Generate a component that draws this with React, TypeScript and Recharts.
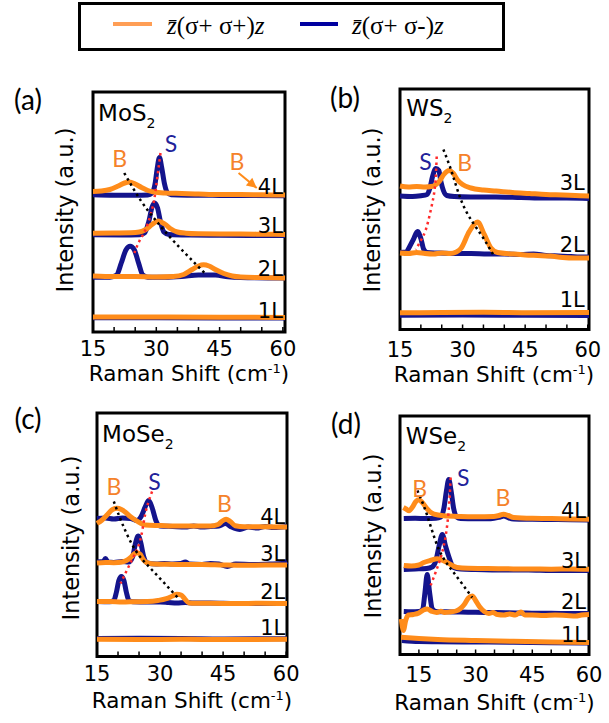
import React from "react"
import { LineChart, Line, XAxis, YAxis, ReferenceArea, ReferenceDot } from "recharts"

type Pt = [number, number]

const ORANGE = "#FF8C1A"
const BLUE = "#14148C"
const RED = "#FF2A2A"
const SANS = "DejaVu Sans"

const ticks5 = [15, 20, 25, 30, 35, 40, 45, 50, 55, 60]
const tickLabels = [15, 30, 45, 60]

// (a) MoS2 — co = σ+σ+ (orange), cross = σ+σ- (blue)
const mos2_4L_co: Pt[] = [[15, 14.05], [17, 14.1], [19, 14.25], [21, 14.6], [22.5, 14.9], [23.6, 15.0], [25, 14.8], [26.5, 14.45], [28, 14.15], [29.5, 14.0], [32, 13.9], [36, 13.85], [40, 13.8], [45, 13.75], [50, 13.75], [55, 13.72], [60.5, 13.7]]
const mos2_4L_cross: Pt[] = [[15, 13.72], [20, 13.68], [25, 13.68], [28, 13.7], [29, 13.9], [29.7, 14.8], [30.2, 16.3], [30.75, 17.45], [31.3, 16.4], [31.9, 14.9], [32.6, 13.95], [33.5, 13.72], [38, 13.68], [45, 13.66], [52, 13.65], [60.5, 13.62]]
const mos2_3L_co: Pt[] = [[15, 9.88], [20, 9.9], [24, 9.92], [26, 10.0], [27.5, 10.25], [29, 10.75], [30.4, 11.1], [32, 10.8], [33.5, 10.3], [35, 10.0], [37, 9.88], [40, 9.82], [45, 9.8], [50, 9.8], [55, 9.78], [60.5, 9.75]]
const mos2_3L_cross: Pt[] = [[15, 9.72], [22, 9.7], [26, 9.72], [27.2, 9.9], [28.2, 11.0], [29.0, 12.5], [29.6, 12.9], [30.3, 12.4], [31.0, 11.0], [31.8, 10.0], [33, 9.75], [38, 9.7], [45, 9.68], [52, 9.66], [60.5, 9.65]]
const mos2_2L_co: Pt[] = [[15, 5.6], [20, 5.55], [25, 5.55], [30, 5.5], [34, 5.55], [36.5, 5.75], [38.5, 6.25], [40, 6.6], [41.2, 6.72], [42.5, 6.6], [44, 6.25], [46, 5.85], [48, 5.6], [50, 5.5], [55, 5.45], [60.5, 5.4]]
const mos2_2L_cross: Pt[] = [[15, 5.48], [19, 5.48], [20.6, 5.7], [21.7, 6.9], [22.8, 8.2], [23.8, 8.57], [24.8, 8.2], [25.8, 6.9], [26.8, 5.7], [28, 5.48], [32, 5.48], [36, 5.55], [40, 5.7], [44, 5.7], [47, 5.52], [50, 5.45], [60.5, 5.4]]
const mos2_1L_co: Pt[] = [[15, 1.5], [30, 1.5], [45, 1.48], [60.5, 1.46]]
const mos2_1L_cross: Pt[] = [[15, 1.43], [30, 1.42], [45, 1.41], [60.5, 1.4]]
const mos2_S: Pt[] = [[31.0, 17.9], [30.0, 14.7], [29.2, 12.6], [27.6, 10.4], [26.0, 9.1], [24.8, 7.9]]
const mos2_B: Pt[] = [[22.4, 15.9], [26.4, 13.1], [30.0, 11.1], [34.3, 9.0], [41.9, 5.7]]
const mos2_arrow: Pt[] = [[49.5, 15.9], [53.8, 14.4]]

// (b) WS2
const ws2_3L_co: Pt[] = [[15, 14.35], [17, 14.25], [19, 14.3], [21, 14.25], [22.5, 14.3], [23.5, 14.45], [24.5, 14.85], [25.5, 15.5], [26.8, 15.9], [27.8, 15.6], [28.8, 14.95], [30, 14.5], [32, 14.15], [35, 13.95], [38, 13.85], [42, 13.7], [46, 13.6], [50, 13.5], [54, 13.45], [57, 13.4], [60.3, 13.35]]
const ws2_3L_cross: Pt[] = [[15, 13.35], [18, 13.3], [20, 13.38], [21.5, 13.5], [22.2, 14.2], [22.8, 15.3], [23.6, 16.1], [24.3, 15.9], [24.8, 14.8], [25.4, 13.9], [26.2, 13.4], [28, 13.3], [32, 13.25], [38, 13.25], [44, 13.2], [50, 13.15], [55, 13.15], [60.3, 13.1]]
const ws2_2L_co: Pt[] = [[15, 7.65], [17, 7.6], [19, 7.7], [21, 7.6], [23, 7.55], [25, 7.65], [27, 7.6], [28.5, 7.75], [29.6, 8.1], [31.6, 9.8], [33.6, 10.75], [35.2, 9.5], [36.8, 8.15], [38.4, 7.7], [42, 7.55], [45, 7.45], [48, 7.4], [51, 7.35], [54, 7.2], [57, 7.15], [60.3, 7.15]]
const ws2_2L_cross: Pt[] = [[15, 7.7], [16.5, 7.75], [17.2, 8.2], [18.2, 9.0], [19.2, 9.8], [20.0, 9.1], [20.7, 8.0], [21.5, 7.7], [24, 7.65], [28, 7.6], [32, 7.6], [36, 7.55], [40, 7.55], [44, 7.5], [47, 7.55], [50, 7.4], [53, 7.35], [56, 7.3], [58, 7.25], [60.3, 7.25]]
const ws2_1L_co: Pt[] = [[15, 1.67], [25, 1.7], [35, 1.72], [45, 1.68], [60.3, 1.7]]
const ws2_1L_cross: Pt[] = [[15, 1.43], [30, 1.45], [45, 1.42], [60.3, 1.4]]
const ws2_S: Pt[] = [[23.8, 17.3], [23.6, 15.5], [23.2, 13.7], [22.3, 11.8], [21.2, 10.0], [20.0, 8.9], [18.8, 8.0]]
const ws2_B: Pt[] = [[25.4, 18.0], [27.6, 15.5], [30.4, 12.2], [34.4, 9.5], [37.6, 7.3]]

// (c) MoSe2
const mose2_4L_co: Pt[] = [[15, 13.3], [16.2, 13.65], [17.5, 14.2], [18.7, 14.7], [19.8, 14.82], [20.8, 14.7], [21.7, 14.45], [22.9, 14.0], [24.1, 13.65], [25.3, 13.35], [26.5, 13.15], [30, 13.1], [34, 13.05], [38, 13.05], [42, 13.05], [43.8, 13.2], [44.8, 13.55], [45.7, 13.72], [46.7, 13.5], [47.9, 13.08], [50, 12.98], [55, 12.98], [60.2, 12.95]]
const mose2_4L_cross: Pt[] = [[15, 13.8], [17, 13.85], [19, 13.75], [21, 13.85], [23, 13.8], [24.5, 13.6], [25.5, 14.0], [26.5, 15.0], [27.3, 15.6], [28.1, 14.9], [29.0, 13.6], [30, 13.05], [33, 13.0], [36, 12.95], [38, 13.05], [40, 12.95], [42, 13.0], [44, 13.05], [45.5, 13.3], [47, 12.95], [49, 12.7], [51, 12.95], [53, 12.85], [55, 13.0], [57, 12.9], [60.2, 13.0]]
const mose2_3L_co: Pt[] = [[15, 9.35], [17, 9.4], [19, 9.38], [21, 9.45], [22, 9.6], [23, 9.9], [24, 10.3], [24.6, 10.38], [25.3, 10.2], [26, 9.7], [26.8, 9.4], [28, 9.28], [32, 9.22], [36, 9.2], [40, 9.2], [45, 9.15], [50, 9.12], [55, 9.15], [60.2, 9.15]]
const mose2_3L_cross: Pt[] = [[15, 9.45], [16.5, 9.5], [17.0, 9.8], [17.6, 9.45], [19, 9.4], [21, 9.5], [22.5, 9.45], [23.5, 10.0], [24.2, 11.4], [24.8, 12.05], [25.4, 11.4], [26.1, 10.0], [27, 9.35], [29, 9.25], [31, 9.3], [33, 9.25], [35, 9.3], [36, 9.45], [37, 9.25], [40, 9.2], [42, 9.3], [44, 9.25], [46, 9.0], [48, 9.25], [52, 9.2], [56, 9.25], [59, 9.3], [60.2, 9.5]]
const mose2_2L_co: Pt[] = [[15, 5.5], [18, 5.5], [21, 5.45], [24, 5.48], [27, 5.5], [29.5, 5.6], [31.5, 5.78], [33, 6.05], [34, 6.23], [35, 6.15], [35.9, 5.75], [36.9, 5.35], [38.5, 5.32], [42, 5.32], [48, 5.3], [54, 5.32], [60.2, 5.3]]
const mose2_2L_cross: Pt[] = [[15, 5.5], [18, 5.48], [19, 5.6], [19.6, 6.4], [20.2, 7.6], [20.8, 8.0], [21.4, 7.6], [22.0, 6.4], [22.6, 5.6], [23.5, 5.48], [27, 5.45], [30, 5.45], [32, 5.4], [34, 5.35], [36, 5.4], [38, 5.35], [42, 5.35], [48, 5.3], [54, 5.3], [60.2, 5.3]]
const mose2_1L_co: Pt[] = [[15, 1.72], [25, 1.7], [35, 1.72], [45, 1.7], [60.2, 1.72]]
const mose2_1L_cross: Pt[] = [[15, 1.8], [25, 1.82], [35, 1.8], [45, 1.76], [60.2, 1.78]]
const mose2_S: Pt[] = [[28.1, 16.5], [26.5, 14.3], [25.3, 11.65], [23.3, 9.65], [20.6, 7.3]]
const mose2_B: Pt[] = [[19.0, 15.5], [21.0, 13.3], [24.1, 10.65], [28.1, 8.65], [34.4, 5.8]]

// (d) WSe2
const wse2_4L_co: Pt[] = [[10.9, 14.7], [11.6, 14.55], [12.4, 14.38], [13.3, 14.75], [14.2, 15.3], [15.0, 15.47], [15.9, 15.2], [17.2, 14.55], [18.2, 14.2], [19.0, 14.03], [21.6, 13.87], [26, 13.8], [30, 13.78], [34.8, 13.8], [36.2, 13.9], [37.4, 14.03], [38.6, 13.9], [40.1, 13.7], [45, 13.62], [50, 13.6], [55, 13.55], [60, 13.53]]
const wse2_4L_cross: Pt[] = [[11, 13.6], [14, 13.62], [17, 13.6], [19.5, 13.62], [20.8, 13.75], [21.6, 14.6], [22.3, 16.4], [22.9, 17.5], [23.5, 16.4], [24.2, 14.6], [25.0, 13.75], [26, 13.6], [30, 13.58], [34, 13.58], [36.5, 13.75], [37.5, 13.85], [38.5, 13.7], [40, 13.55], [45, 13.52], [50, 13.5], [55, 13.48], [60, 13.45]]
const wse2_3L_co: Pt[] = [[11, 8.9], [13, 8.85], [15, 8.95], [16.3, 9.2], [18, 9.4], [19.85, 9.57], [21, 9.45], [22.5, 9.2], [25.1, 8.7], [28, 8.62], [32, 8.6], [36, 8.58], [40, 8.56], [45, 8.55], [50, 8.53], [55, 8.55], [60, 8.52]]
const wse2_3L_cross: Pt[] = [[11, 8.5], [14, 8.55], [17, 8.6], [18.5, 8.75], [19.5, 9.4], [20.3, 10.8], [21.2, 12.0], [22.0, 10.9], [22.9, 9.8], [24.2, 8.7], [26, 8.55], [30, 8.5], [38, 8.45], [44, 8.45], [50, 8.4], [55, 8.4], [60, 8.4]]
const wse2_2L_co: Pt[] = [[10.35, 3.55], [10.9, 2.4], [11.5, 3.4], [12.2, 3.95], [13.5, 4.0], [15, 4.15], [16.2, 4.45], [17.2, 4.55], [18.5, 4.3], [19.7, 4.2], [20.8, 4.33], [21.8, 4.2], [23.2, 4.25], [24.8, 4.35], [26, 4.6], [27, 5.0], [28.1, 5.65], [29.1, 5.85], [30.0, 5.4], [31.0, 4.8], [32.3, 4.3], [33.5, 4.1], [34.6, 4.2], [35.8, 4.0], [37.5, 3.95], [39, 4.05], [40.5, 3.95], [42, 4.25], [43, 3.95], [45, 3.95], [48, 3.9], [51, 3.95], [54, 3.9], [56.5, 3.85], [58, 3.95], [60, 4.0]]
const wse2_2L_cross: Pt[] = [[11, 4.3], [13, 4.28], [15, 4.3], [16, 4.5], [16.6, 6.2], [17.2, 8.0], [17.8, 6.3], [18.5, 4.6], [19.5, 4.3], [22, 4.27], [26, 4.25], [30, 4.22], [34, 4.2], [38, 4.18], [42, 4.15], [46, 4.12], [50, 4.12], [55, 4.1], [60, 4.1]]
const wse2_1L_co: Pt[] = [[10.3, 1.72], [15, 1.6], [20, 1.5], [30, 1.4], [40, 1.32], [50, 1.26], [60, 1.2]]
const wse2_1L_cross: Pt[] = [[10.5, 1.4], [15, 1.3], [20, 1.28], [30, 1.25], [40, 1.22], [50, 1.18], [60, 1.15]]
const wse2_S: Pt[] = [[23.4, 17.7], [22.9, 14.5], [21.6, 10.9], [19.4, 8.2], [18.1, 6.9]]
const wse2_B: Pt[] = [[14.6, 16.4], [17.2, 13.9], [20.3, 10.5], [24.2, 8.2], [29.1, 5.7]]

// annotation anchors (data units)
type Note = { t: string; x: number; y: number }
const mos2Notes: Note[] = [{ t: "S", x: 33.5, y: 18.9 }, { t: "B", x: 21.3, y: 17.4 }, { t: "B", x: 49.1, y: 17.15 }]
const ws2Notes: Note[] = [{ t: "S", x: 21.1, y: 16.9 }, { t: "B", x: 30.5, y: 16.8 }]
const mose2Notes: Note[] = [{ t: "B", x: 19.0, y: 17.1 }, { t: "S", x: 28.65, y: 17.6 }, { t: "B", x: 45.3, y: 15.4 }]
const wse2Notes: Note[] = [{ t: "B", x: 15.2, y: 16.7 }, { t: "S", x: 26.7, y: 17.75 }, { t: "B", x: 37.25, y: 15.75 }]

const toPts = (a: Pt[]) => a.map(([x, y]) => ({ x, y }))

const panels = [
  {
    letter: "(a)", letterPos: [28, 99], yTitle: [65, 210], xTitleTop: 366.6,
    frame: { l: 93, r: 285, t: 92, b: 332 }, xDomain: [15, 60.5], yMax: 24, tickMargin: 13.75,
    name: "MoS", nameAt: [16.2, 21.9],
    layers: [
      { label: "4L", y: 14.55, co: mos2_4L_co, cross: mos2_4L_cross },
      { label: "3L", y: 10.57, co: mos2_3L_co, cross: mos2_3L_cross },
      { label: "2L", y: 6.32, co: mos2_2L_co, cross: mos2_2L_cross },
      { label: "1L", y: 2.15, co: mos2_1L_co, cross: mos2_1L_cross },
    ],
    labelX: 60, sGuide: mos2_S, bGuide: mos2_B, notes: mos2Notes, arrow: mos2_arrow,
  },
  {
    letter: "(b)", letterPos: [345, 97], yTitle: [372, 210], xTitleTop: 367.6,
    frame: { l: 399.5, r: 588.5, t: 88.5, b: 329 }, xDomain: [15, 60.3], yMax: 24.05, tickMargin: 17.75,
    name: "WS", nameAt: [16.5, 22.17],
    layers: [
      { label: "3L", y: 14.67, co: ws2_3L_co, cross: ws2_3L_cross },
      { label: "2L", y: 8.43, co: ws2_2L_co, cross: ws2_2L_cross },
      { label: "1L", y: 3.0, co: ws2_1L_co, cross: ws2_1L_cross },
    ],
    labelX: 59.3, sGuide: ws2_S, bGuide: ws2_B, notes: ws2Notes, arrow: null,
  },
  {
    letter: "(c)", letterPos: [28, 418], yTitle: [71, 538], xTitleTop: 693.9,
    frame: { l: 97, r: 287, t: 413, b: 656.5 }, xDomain: [15, 60.2], yMax: 24.35, tickMargin: 15,
    name: "MoSe", nameAt: [16.2, 22.3],
    layers: [
      { label: "4L", y: 13.92, co: mose2_4L_co, cross: mose2_4L_cross },
      { label: "3L", y: 10.25, co: mose2_3L_co, cross: mose2_3L_cross },
      { label: "2L", y: 6.42, co: mose2_2L_co, cross: mose2_2L_cross },
      { label: "1L", y: 2.82, co: mose2_1L_co, cross: mose2_1L_cross },
    ],
    labelX: 59.8, sGuide: mose2_S, bGuide: mose2_B, notes: mose2Notes, arrow: null,
  },
  {
    letter: "(d)", letterPos: [346, 423], yTitle: [373, 536], xTitleTop: 695.6,
    frame: { l: 400, r: 589, t: 416, b: 654.5 }, xDomain: [10, 60], yMax: 23.85, tickMargin: 18,
    name: "WSe", nameAt: [11.5, 21.9],
    layers: [
      { label: "4L", y: 14.37, co: wse2_4L_co, cross: wse2_4L_cross },
      { label: "3L", y: 9.37, co: wse2_3L_co, cross: wse2_3L_cross },
      { label: "2L", y: 5.3, co: wse2_2L_co, cross: wse2_2L_cross },
      { label: "1L", y: 1.97, co: wse2_1L_co, cross: wse2_1L_cross },
    ],
    labelX: 59.2, sGuide: wse2_S, bGuide: wse2_B, notes: wse2Notes, arrow: null,
  },
]

const MX = 24
const MT = 8
const AXIS_H = 34

function Panel({ p }: { p: any }) {
  const w = p.frame.r - p.frame.l
  const h = p.frame.b - p.frame.t
  const [x0, x1] = p.xDomain
  return (
    <div style={{ position: "absolute", left: p.frame.l - MX, top: p.frame.t - MT }}>
      <LineChart width={w + 2 * MX} height={h + MT + 6 + AXIS_H} margin={{ top: MT, right: MX, bottom: 6, left: MX }}>
        <XAxis
          type="number" dataKey="x" domain={p.xDomain} ticks={ticks5} interval={0}
          tickFormatter={(v: number) => (tickLabels.includes(v) ? String(v) : "")}
          tickSize={-5} tickMargin={p.tickMargin} height={AXIS_H} axisLine={false}
          tickLine={{ stroke: "#000", strokeWidth: 1.5 }}
          tick={{ fill: "#000", fontSize: 21, fontFamily: SANS }}
        />
        <YAxis hide type="number" domain={[0, p.yMax]} />
        {p.layers.map((l: any) => (
          <Line key={"x" + l.label} data={toPts(l.cross)} dataKey="y" type="monotone" stroke={BLUE} strokeWidth={5} dot={false} isAnimationActive={false} />
        ))}
        {p.layers.map((l: any) => (
          <Line key={"c" + l.label} data={toPts(l.co)} dataKey="y" type="monotone" stroke={ORANGE} strokeWidth={5} dot={false} isAnimationActive={false} />
        ))}
        <Line data={toPts(p.sGuide)} dataKey="y" type="natural" stroke={RED} strokeWidth={2.5} strokeDasharray="2.5 3.5" dot={false} isAnimationActive={false} />
        <Line data={toPts(p.bGuide)} dataKey="y" type="natural" stroke="#000" strokeWidth={2.5} strokeDasharray="2.5 3.5" dot={false} isAnimationActive={false} />
        {p.arrow && (
          <Line
            data={toPts(p.arrow)} dataKey="y" type="linear" stroke={ORANGE} strokeWidth={2} isAnimationActive={false}
            dot={(d: any) =>
              d.index === 1 ? (
                <polygon key="head" points="0,0 -10,-5 -10,5" fill={ORANGE} transform={`translate(${d.cx},${d.cy}) rotate(40)`} />
              ) : (
                <g key={"d" + d.index} />
              )
            }
          />
        )}
        <ReferenceArea x1={x0} x2={x1} y1={0} y2={p.yMax} fill="none" fillOpacity={0} stroke="#000" strokeWidth={3} ifOverflow="visible" />
        <ReferenceDot
          x={p.nameAt[0]} y={p.nameAt[1]} r={0}
          shape={(d: any) => (
            <text x={d.cx} y={d.cy} dominantBaseline="central" fontFamily={SANS} fontSize={23} fill="#000">
              {p.name}
              <tspan dy={10} fontSize={14}>2</tspan>
            </text>
          )}
        />
        {p.layers.map((l: any) => (
          <ReferenceDot
            key={"t" + l.label} x={p.labelX} y={l.y} r={0}
            shape={(d: any) => (
              <text x={d.cx} y={d.cy} textAnchor="end" dominantBaseline="central" fontFamily={SANS} fontSize={21} fill="#000">{l.label}</text>
            )}
          />
        ))}
        {p.notes.map((n: Note, i: number) => (
          <ReferenceDot
            key={"n" + i} x={n.x} y={n.y} r={0}
            shape={(d: any) => (
              <text x={d.cx} y={d.cy} textAnchor="middle" dominantBaseline="central" fontFamily="Lato" fontSize={23} fill={n.t === "S" ? "#22229A" : "#F5822A"}>{n.t}</text>
            )}
          />
        ))}
      </LineChart>
      <div style={{ position: "absolute", left: 0, width: w + 2 * MX, top: p.xTitleTop - p.frame.t + MT, textAlign: "center", fontFamily: SANS, fontSize: 21.5, lineHeight: "14px", whiteSpace: "nowrap" }}>
        Raman Shift (cm<sup style={{ fontSize: 13, lineHeight: 0 }}>-1</sup>)
      </div>
    </div>
  )
}

export default function App() {
  return (
    <div style={{ position: "absolute", left: 0, top: 0, width: 609, height: 723, background: "#fff", overflow: "hidden" }}>
      <div style={{ position: "absolute", left: 78, top: 2, width: 427, height: 49, border: "3px solid #000", boxSizing: "border-box" }} />
      <div style={{ position: "absolute", left: 113, top: 22, width: 39, height: 4, background: "#FF9E55" }} />
      <div style={{ position: "absolute", left: 300, top: 22, width: 38, height: 4, background: "#0000A0" }} />
      <div style={{ position: "absolute", left: 167, top: 11, fontFamily: "Liberation Serif", fontSize: 25, lineHeight: "30px", whiteSpace: "nowrap" }}>
        <i>z&#772;</i>(σ+ σ+)<i>z</i>
      </div>
      <div style={{ position: "absolute", left: 352, top: 11, fontFamily: "Liberation Serif", fontSize: 25, lineHeight: "30px", whiteSpace: "nowrap" }}>
        <i>z&#772;</i>(σ+ σ-)<i>z</i>
      </div>
      {panels.map((p) => (
        <React.Fragment key={p.letter}>
          <div style={{ position: "absolute", left: p.letterPos[0], top: p.letterPos[1], transform: "translate(-50%,-50%)", fontFamily: "Lato", fontSize: 28, lineHeight: 1 }}>{p.letter}</div>
          <div style={{ position: "absolute", left: p.yTitle[0], top: p.yTitle[1], transform: "translate(-50%,-50%) rotate(-90deg)", fontFamily: SANS, fontSize: 22.5, lineHeight: 1, whiteSpace: "nowrap" }}>Intensity (a.u.)</div>
          <Panel p={p} />
        </React.Fragment>
      ))}
    </div>
  )
}
